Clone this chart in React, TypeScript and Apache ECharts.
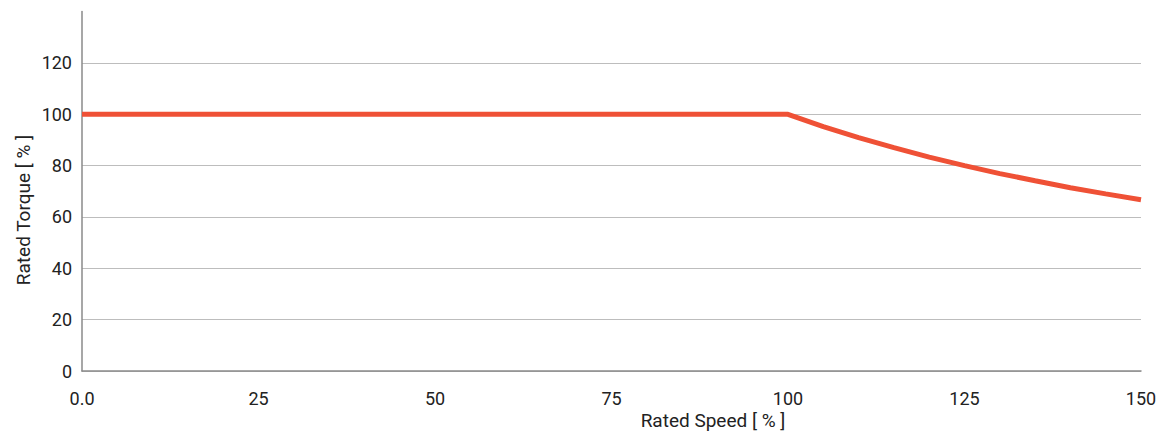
import React, { useEffect, useRef } from "react";
import * as echarts from "echarts";

const speed = [0, 100, 105, 110, 115, 120, 125, 130, 135, 140, 145, 150];
const torque = [100, 100, 95.2, 90.9, 87.0, 83.3, 80.0, 76.9, 74.1, 71.4, 69.0, 66.7];
const xTicks = [0, 25, 50, 75, 100, 125, 150];
const yTicks = [0, 20, 40, 60, 80, 100, 120];
const xName = "Rated Speed [ % ]";
const yName = "Rated Torque [ % ]";

export default function App() {
  const ref = useRef<HTMLDivElement>(null);
  useEffect(() => {
    if (!ref.current) return;
    const chart = echarts.init(ref.current, undefined, { renderer: "svg" });
    const font = "Roboto, 'Noto Sans', sans-serif";
    const gridColors = yTicks.map(() => "#bdbdbd").concat(["transparent"]);
    chart.setOption({
      animation: false,
      grid: { left: 82, right: 20, top: 11.6, bottom: 62, containLabel: false },
      xAxis: {
        type: "value",
        min: 0,
        max: 150,
        interval: 25,
        axisLine: { show: true, lineStyle: { color: "#8a8a8a", width: 1.5 } },
        axisTick: { show: false },
        splitLine: { show: false },
        axisLabel: {
          color: "#222",
          fontSize: 18,
          fontFamily: font,
          margin: 18,
          formatter: (v: number) => (v === 0 ? "0.0" : xTicks.includes(v) ? String(v) : ""),
        },
      },
      yAxis: {
        type: "value",
        min: 0,
        max: 140,
        interval: 20,
        axisLine: { show: true, lineStyle: { color: "#8a8a8a", width: 1.5 } },
        axisTick: { show: false },
        splitLine: { show: true, lineStyle: { color: gridColors, width: 1.2 } },
        axisLabel: {
          color: "#222",
          fontSize: 18,
          fontFamily: font,
          margin: 10,
          formatter: (v: number) => (yTicks.includes(v) ? String(v) : ""),
        },
      },
      graphic: [
        {
          type: "text",
          x: 713,
          y: 420,
          style: {
            text: xName,
            fill: "#222",
            fontSize: 19,
            fontFamily: font,
            align: "center",
            verticalAlign: "middle",
          },
        },
        {
          type: "text",
          x: 23,
          y: 210,
          rotation: Math.PI / 2,
          style: {
            text: yName,
            fill: "#222",
            fontSize: 19,
            fontFamily: font,
            align: "center",
            verticalAlign: "middle",
          },
        },
      ],
      series: [
        {
          type: "line",
          data: speed.map((s, i) => [s, torque[i]]),
          showSymbol: false,
          smooth: false,
          lineStyle: { color: "#ef5136", width: 5 },
        },
      ],
    });
    return () => chart.dispose();
  }, []);
  return (
    <div
      ref={ref}
      style={{ position: "absolute", left: 0, top: 0, width: 1161, height: 433 }}
    />
  );
}
